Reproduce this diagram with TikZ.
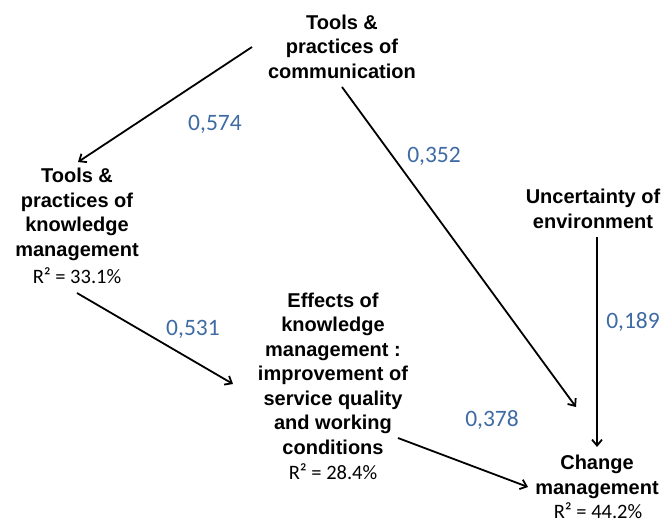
\documentclass[tikz,border=0pt]{standalone}
\usepackage{fontspec}
\setmainfont{Liberation Sans}
\newfontfamily\calib{Carlito}
\usetikzlibrary{arrows.meta}
\definecolor{coefblue}{HTML}{3F6BA5}
\tikzset{
  construct/.style={align=center, inner sep=0pt,
    font=\fontsize{20}{24.5}\selectfont\bfseries},
  rsq/.style={inner sep=0pt, font=\calib\fontsize{20.5}{24}\selectfont},
  coef/.style={inner sep=0pt, text=coefblue, font=\calib\fontsize{23.5}{28}\selectfont},
  path/.style={line width=1.8pt, -{Straight Barb[length=6pt,width=10pt,line width=1.8pt]}}
}
\begin{document}
\begin{tikzpicture}[x=1pt,y=-1pt]
\useasboundingbox (0,0) rectangle (666,523);

% constructs
\node[construct] (comm) at (342,46.5) {Tools \&\\practices of\\communication};
\node[construct] (km) at (77,214.5) {Tools \&\\practices of\\knowledge\\management};
\node[rsq] (r2km) at (77,276) {R² = 33.1\%};
\node[construct] (unc) at (593,209) {Uncertainty of\\environment};
\node[construct] (eff) at (333,373.5) {Effects of\\knowledge\\management :\\improvement of\\service quality\\and working\\conditions};
\node[rsq] (r2eff) at (333,472) {R² = 28.4\%};
\node[construct] (chg) at (597,477) {Change\\management};
\node[rsq] (r2chg) at (598,510.5) {R² = 44.2\%};

% path coefficients
\node[coef] (c1) at (215,124) {0,574};
\node[coef] (c2) at (434,156) {0,352};
\node[coef] (c3) at (633,322) {0,189};
\node[coef] (c4) at (193,329) {0,531};
\node[coef] (c5) at (492,420) {0,378};

% structural paths
\draw[path] ([shift={(-90,0.5)}]comm.center) -- ([shift={(1,-52.5)}]km.center);
\draw[path] ([shift={(0,40.5)}]comm.center) -- ([shift={(-21,-70)}]chg.center);
\draw[path] ([shift={(4,28)}]unc.center) -- ([shift={(0,-30)}]chg.center);
\draw[path] ([shift={(0,17)}]r2km.center) -- ([shift={(-100,10.5)}]eff.center);
\draw[path] ([shift={(65,64.5)}]eff.center) -- ([shift={(-69,10)}]chg.center);
\end{tikzpicture}
\end{document}
